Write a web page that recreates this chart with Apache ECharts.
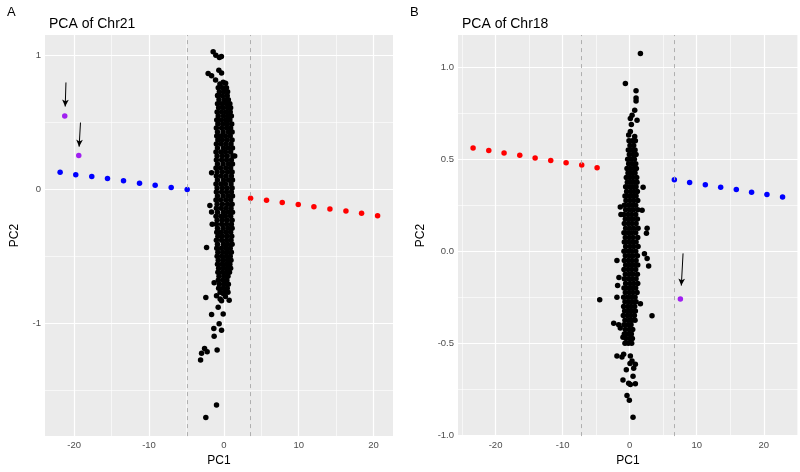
<!DOCTYPE html>
<html>
<head>
<meta charset="utf-8">
<script src="https://cdn.jsdelivr.net/npm/echarts@6/dist/echarts.min.js"></script>
<style>
  html, body { margin: 0; padding: 0; background: #fff; }
  #chart { width: 800px; height: 472px; }
</style>
</head>
<body>
<div id="chart"></div>
<script>
// ---- Panel A: Chr21 ----
var blueA = [[-21.88,0.128],[-19.79,0.110],[-17.65,0.096],[-15.55,0.081],[-13.41,0.064],[-11.27,0.047],[-9.18,0.032],[-7.04,0.015],[-4.90,0.000]];
var redA = [[3.57,-0.066],[5.70,-0.081],[7.80,-0.098],[9.94,-0.113],[12.03,-0.130],[14.17,-0.147],[16.31,-0.162],[18.40,-0.179],[20.54,-0.197]];
var purpleA = [[-21.26,0.550],[-19.39,0.253]];
var arrowsA = [[[-21.1,0.80],[-21.2,0.62]], [[-19.16,0.50],[-19.34,0.32]]];
var cutoffsA = [-4.9, 3.57];
// rows: [PC2, PC1, PC1, ...] for the dense core
var coreA = [
  [0.76,-0.75,-0.15,0.35],[0.73,-0.6,0.0,0.5],[0.70,-0.8,-0.2,0.45],[0.67,-0.65,0.05,0.6],
  [0.64,-0.85,-0.25,0.4,0.8],[0.61,-0.7,-0.1,0.5,0.9],[0.58,-0.9,-0.3,0.3,0.85],[0.55,-0.75,-0.05,0.55,1.0],
  [0.52,-0.95,-0.35,0.25,0.8],[0.49,-0.8,-0.15,0.45,1.05],[0.46,-1.0,-0.3,0.35,0.9],[0.43,-0.85,-0.1,0.6,1.1],
  [0.40,-0.95,-0.4,0.2,0.85],[0.37,-0.8,-0.2,0.45,1.1],[0.34,-1.0,-0.35,0.3,0.95],[0.31,-0.85,-0.05,0.55,1.15],
  [0.28,-1.05,-0.4,0.2,0.9],[0.25,-0.9,-0.2,0.45,1.2],[0.22,-1.0,-0.3,0.35,1.0],[0.19,-0.85,-0.1,0.6,1.15],
  [0.16,-1.05,-0.45,0.25,0.9],[0.13,-0.9,-0.2,0.5,1.1],[0.10,-1.0,-0.35,0.3,1.0],[0.07,-0.85,-0.05,0.6,1.15],
  [0.04,-1.05,-0.4,0.2,0.95],[0.01,-0.9,-0.2,0.45,1.1],[-0.02,-1.0,-0.3,0.35,1.0],[-0.05,-0.85,-0.1,0.55,1.15],
  [-0.08,-1.05,-0.45,0.25,0.9],[-0.11,-0.9,-0.2,0.5,1.1],[-0.14,-1.0,-0.35,0.3,0.95],[-0.17,-0.85,-0.05,0.6,1.15],
  [-0.20,-1.05,-0.4,0.2,0.9],[-0.23,-0.9,-0.2,0.45,1.1],[-0.26,-1.0,-0.3,0.35,1.0],[-0.29,-0.85,-0.1,0.55,1.1],
  [-0.32,-0.95,-0.4,0.25,0.9],[-0.35,-0.8,-0.2,0.45,1.05],[-0.38,-1.0,-0.3,0.35,0.95],[-0.41,-0.85,-0.05,0.5,1.1],
  [-0.44,-0.95,-0.35,0.25,0.85],[-0.47,-0.8,-0.15,0.45,1.0],[-0.50,-0.9,-0.3,0.3,0.85],[-0.53,-0.75,-0.1,0.5,0.95],
  [-0.56,-0.85,-0.25,0.3,0.8],[-0.59,-0.7,-0.05,0.5,0.9],[-0.62,-0.8,-0.2,0.35,0.75],[-0.65,-0.65,0.0,0.55],
  [-0.68,-0.75,-0.15,0.4],[-0.71,-0.6,0.05,0.6],[-0.74,-0.7,-0.1,0.45],[-0.77,-0.5,0.1,0.55]
];
var strayA = [
  [-1.43,1.029],[-1.07,1.003],[-0.60,0.987],[-0.33,0.994],[-2.10,0.867],[-1.64,0.850],[-0.67,0.892],[-0.31,0.870],
  [-1.11,0.818],[-0.53,0.788],[0.23,0.794],[-0.09,0.801],[-0.84,0.702],[0.36,0.641],[1.45,0.25],[-1.64,0.125],
  [-1.87,-0.120],[-1.64,-0.169],[-1.56,-0.260],[-2.31,-0.435],[-1.30,-0.698],[-2.41,-0.808],[-0.98,-0.796],
  [-0.09,-0.779],[0.71,-0.828],[-0.31,-0.833],[0.2,-0.80],[-0.5,-0.82],[-0.76,-0.882],[-1.64,-0.936],[-0.09,-0.931],
  [-0.63,-1.004],[-1.34,-1.041],[-0.31,-1.054],[-1.30,-1.098],[-2.58,-1.189],[-2.23,-1.214],[-2.98,-1.226],
  [-3.11,-1.275],[-0.90,-1.201],[-0.98,-1.612],[-2.41,-1.705]
];

// ---- Panel B: Chr18 ----
var redB = [[-23.35,0.561],[-21.01,0.547],[-18.73,0.534],[-16.39,0.522],[-14.10,0.507],[-11.77,0.493],[-9.48,0.481],[-7.15,0.468],[-4.86,0.454]];
var blueB = [[6.66,0.388],[8.94,0.374],[11.28,0.361],[13.57,0.347],[15.90,0.335],[18.18,0.321],[20.47,0.308],[22.80,0.294]];
var purpleB = [[7.56,-0.260]];
var arrowsB = [[[7.96,-0.012],[7.70,-0.187]]];
var cutoffsB = [-7.2, 6.7];
var coreB = [
  [0.60,-0.1,0.4,0.85],[0.575,0.05,0.6],[0.55,-0.2,0.3,0.8],[0.525,-0.05,0.5,0.95],[0.50,-0.3,0.2,0.7],
  [0.475,-0.15,0.4,0.9],[0.45,-0.4,0.1,0.6,1.0],[0.425,-0.25,0.3,0.8],[0.40,-0.5,0.0,0.5,1.05],[0.375,-0.35,0.2,0.7,1.1],
  [0.35,-0.6,-0.05,0.45,0.95],[0.325,-0.45,0.15,0.65,1.15],[0.30,-0.7,-0.1,0.4,0.95],[0.275,-0.55,0.05,0.6,1.2],
  [0.25,-0.8,-0.2,0.35,0.9],[0.225,-0.6,0.0,0.55,1.2],[0.20,-0.85,-0.25,0.3,0.9],[0.175,-0.65,-0.05,0.5,1.15],
  [0.15,-0.8,-0.2,0.35,0.95],[0.125,-0.6,0.0,0.6,1.25],[0.10,-0.85,-0.25,0.3,0.9],[0.075,-0.65,-0.05,0.5,1.2],
  [0.05,-0.8,-0.2,0.4,0.95],[0.025,-0.6,0.05,0.6,1.25],[0.00,-0.85,-0.25,0.3,0.9],[-0.025,-0.65,-0.05,0.5,1.15],
  [-0.05,-0.8,-0.2,0.35,0.95],[-0.075,-0.6,0.0,0.6,1.2],[-0.10,-0.85,-0.25,0.3,0.9],[-0.125,-0.65,-0.05,0.5,1.15],
  [-0.15,-0.8,-0.2,0.35,0.95],[-0.175,-0.6,0.05,0.6,1.2],[-0.20,-0.85,-0.25,0.3,0.9],[-0.225,-0.65,-0.05,0.5,1.1],
  [-0.25,-0.9,-0.3,0.25,0.8],[-0.275,-0.7,-0.1,0.45,0.95],[-0.30,-0.9,-0.3,0.2,0.75],[-0.325,-0.75,-0.15,0.4,0.85],
  [-0.35,-0.95,-0.35,0.15,0.7],[-0.375,-0.7,-0.1,0.35,0.8],[-0.40,-0.85,-0.3,0.2],[-0.425,-0.65,-0.05,0.45],
  [-0.45,-0.8,-0.25,0.25],[-0.475,-0.55,0.0,0.4],[-0.50,-0.7,-0.2,0.3]
];
var strayB = [
  [1.6,1.074],[-0.64,0.912],[0.95,0.872],[0.95,0.832],[0.95,0.816],[0.75,0.766],[0.36,0.739],[0.1,0.721],[1.1,0.712],
  [0.25,0.689],[-0.15,0.632],[0.1,0.65],[0.75,0.623],[2.0,0.347],[1.85,0.223],[-1.4,0.24],[-1.3,0.20],[2.6,0.125],
  [2.5,0.098],[2.2,-0.014],[2.6,-0.04],[2.83,-0.08],[-1.9,-0.05],[-1.6,-0.143],[-1.8,-0.187],[-1.9,-0.25],
  [-4.47,-0.264],[3.33,-0.351],[-2.38,-0.392],[-1.64,-0.40],[1.6,-0.285],[-1.4,-0.418],[-1.0,-0.468],[-1.9,-0.570],
  [-1.15,-0.575],[-0.9,-0.56],[0.1,-0.57],[0.35,-0.597],[0.85,-0.614],[0.05,-0.61],[-0.5,-0.645],[0.6,-0.636],
  [0.5,-0.68],[-1.0,-0.70],[-0.15,-0.718],[0.1,-0.725],[0.85,-0.72],[-0.4,-0.784],[-0.05,-0.81],[0.5,-0.903]
];

// ---- axis breaks ----
var xMajor = [-20, -10, 0, 10, 20];
var xMinorA = [-15, -5, 5, 15];
var xMinorB = [-25, -15, -5, 5, 15, 25];
var yMajorA = [-1, 0, 1];
var yMinorA = [-1.5, -0.5, 0.5];
var yMajorB = [-1, -0.5, 0, 0.5, 1];
var yMinorB = [-0.75, -0.25, 0.25, 0.75];

function expandRows(rows) {
  var out = [];
  rows.forEach(function (r) {
    for (var i = 1; i < r.length; i++) out.push([r[i], r[0]]);
  });
  return out;
}

var FONT = 'Liberation Sans, Arial, sans-serif';
var chart = echarts.init(document.getElementById('chart'));

function gridLines(xMaj, xMin, yMaj, yMin) {
  var d = [];
  xMin.forEach(function (v) { d.push({ xAxis: v, lineStyle: { width: 0.6 } }); });
  yMin.forEach(function (v) { d.push({ yAxis: v, lineStyle: { width: 0.6 } }); });
  xMaj.forEach(function (v) { d.push({ xAxis: v, lineStyle: { width: 1.2 } }); });
  yMaj.forEach(function (v) { d.push({ yAxis: v, lineStyle: { width: 1.2 } }); });
  return d;
}

function xAxisFor(idx, min, max) {
  return {
    gridIndex: idx, type: 'value', min: min, max: max,
    axisLine: { show: false }, splitLine: { show: false },
    axisTick: { show: true, length: 3, customValues: xMajor, lineStyle: { color: '#333', width: 1 } },
    axisLabel: { customValues: xMajor, color: '#4d4d4d', fontSize: 9.5, margin: 4, fontFamily: FONT },
    name: 'PC1', nameLocation: 'middle', nameGap: 16,
    nameTextStyle: { color: '#000', fontSize: 12, fontFamily: FONT }
  };
}

function yAxisFor(idx, min, max, ticks, digits, gap) {
  return {
    gridIndex: idx, type: 'value', min: min, max: max,
    axisLine: { show: false }, splitLine: { show: false },
    axisTick: { show: true, length: 3, customValues: ticks, lineStyle: { color: '#333', width: 1 } },
    axisLabel: {
      customValues: ticks, color: '#4d4d4d', fontSize: 9.5, margin: 4, fontFamily: FONT,
      formatter: function (v) { return v.toFixed(digits); }
    },
    name: 'PC2', nameLocation: 'middle', nameGap: gap, nameRotate: 90,
    nameTextStyle: { color: '#000', fontSize: 12, fontFamily: FONT }
  };
}

function panelSeries(idx, xMin, yMaj, yMin, black, blue, red, purple, cutoffs, arrows) {
  var dots = function (data, color, z) {
    return { type: 'scatter', xAxisIndex: idx, yAxisIndex: idx, data: data, symbolSize: 5.5,
      itemStyle: { color: color, opacity: 1 }, z: z, silent: true };
  };
  var lines = [];
  cutoffs.forEach(function (v) { lines.push({ xAxis: v }); });
  arrows.forEach(function (a) {
    lines.push([
      { coord: a[0], symbol: 'none', lineStyle: { color: '#000', type: 'solid', width: 1 } },
      { coord: a[1], symbol: 'arrow', symbolSize: [5, 7] }
    ]);
  });
  return [
    { type: 'scatter', xAxisIndex: idx, yAxisIndex: idx, data: [], z: 1, silent: true,
      markLine: { z: 1, silent: true, symbol: 'none', label: { show: false }, animation: false,
        lineStyle: { color: '#fff', type: 'solid' }, data: gridLines(xMajor, xMin, yMaj, yMin) } },
    dots(black, '#000', 2),
    dots(blue, '#0000ff', 3),
    dots(red, '#ff0000', 3),
    dots(purple, '#a020f0', 3),
    { type: 'scatter', xAxisIndex: idx, yAxisIndex: idx, data: [], z: 5, silent: true,
      markLine: { z: 10, silent: true, symbol: 'none', label: { show: false }, animation: false,
        lineStyle: { color: '#a8a8a8', type: [4, 4], width: 0.9 }, data: lines } }
  ];
}

var option = {
  animation: false,
  backgroundColor: '#fff',
  title: [
    { text: 'A', left: 2, top: 1, textStyle: { fontSize: 13, fontWeight: 'normal', color: '#000', fontFamily: FONT } },
    { text: 'PCA of Chr21', left: 44, top: 12, textStyle: { fontSize: 14, fontWeight: 'normal', color: '#000', fontFamily: FONT } },
    { text: 'B', left: 405, top: 1, textStyle: { fontSize: 13, fontWeight: 'normal', color: '#000', fontFamily: FONT } },
    { text: 'PCA of Chr18', left: 457, top: 12, textStyle: { fontSize: 14, fontWeight: 'normal', color: '#000', fontFamily: FONT } }
  ],
  grid: [
    { left: 45, top: 35, width: 348, height: 407, show: true, backgroundColor: '#ebebeb', borderWidth: 0 },
    { left: 458, top: 35, width: 340, height: 407, show: true, backgroundColor: '#ebebeb', borderWidth: 0 }
  ],
  xAxis: [xAxisFor(0, -23.9, 22.6), xAxisFor(1, -25.6, 25.1)],
  yAxis: [yAxisFor(0, -1.845, 1.155, yMajorA, 0, 24), yAxisFor(1, -1.005, 1.175, yMajorB, 1, 31)],
  series: [].concat(
    panelSeries(0, xMinorA, yMajorA, yMinorA, expandRows(coreA).concat(strayA), blueA, redA, purpleA, cutoffsA, arrowsA),
    panelSeries(1, xMinorB, yMajorB, yMinorB, expandRows(coreB).concat(strayB), blueB, redB, purpleB, cutoffsB, arrowsB)
  )
};

chart.setOption(option);
</script>
</body>
</html>
